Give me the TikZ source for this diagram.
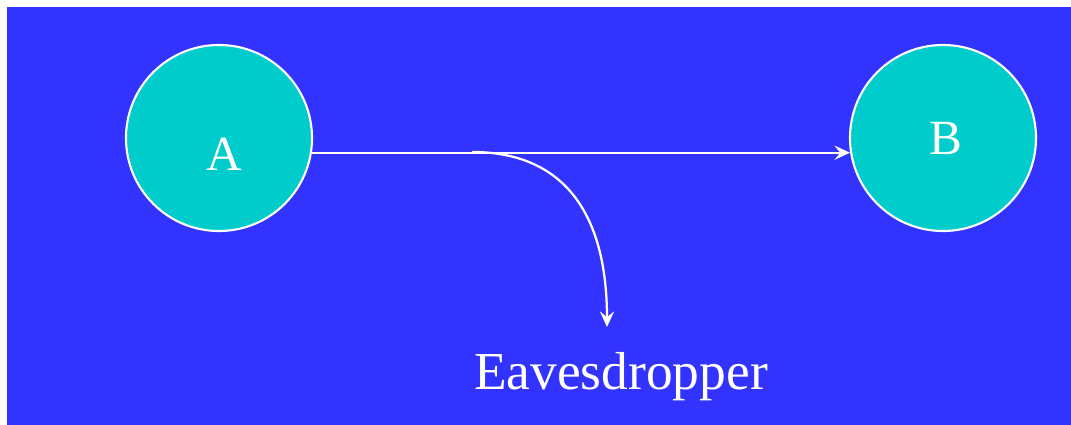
\documentclass[tikz,border=0pt]{standalone}
\usepackage{fontspec}
\setmainfont{Liberation Serif}
\usepackage{tikz}
\usetikzlibrary{arrows.meta, positioning, calc}
\usepackage{xcolor}
\definecolor{bgblue}{RGB}{51,51,255}
\definecolor{party}{RGB}{0,204,204}

\begin{document}
\begin{tikzpicture}[x=0.025cm, y=-0.025cm,
  station/.style={circle, draw=white, line width=1.5pt, fill=party, minimum size=4.65cm, inner sep=0pt, text=white, font=\fontsize{35}{40}\selectfont},
  link/.style={white, line width=1.6pt, -{Stealth[length=11pt, width=10pt, inset=4pt]}}]
  \useasboundingbox (0,0) rectangle (1071,425);
  \fill[bgblue] (7,7) rectangle (1071,425);
  % parties
  \node[station] (A) at (219,138) {\hspace*{7pt}\raisebox{-1.0\height}[0pt][0pt]{A}};
  \node[station] (B) at (943,138) {\hspace*{4pt}B};
  \node[text=white, font=\fontsize{38}{42}\selectfont] (eve) at (621,377) {Eavesdropper};
  % tapping point
  \coordinate (tap) at (472,152);
  \coordinate (ear) at (607,327);
  \draw[link] (A.-9) -- (B.189);
  \draw[link] (tap) .. controls (565,152) and (607,215) .. (ear);
\end{tikzpicture}
\end{document}
